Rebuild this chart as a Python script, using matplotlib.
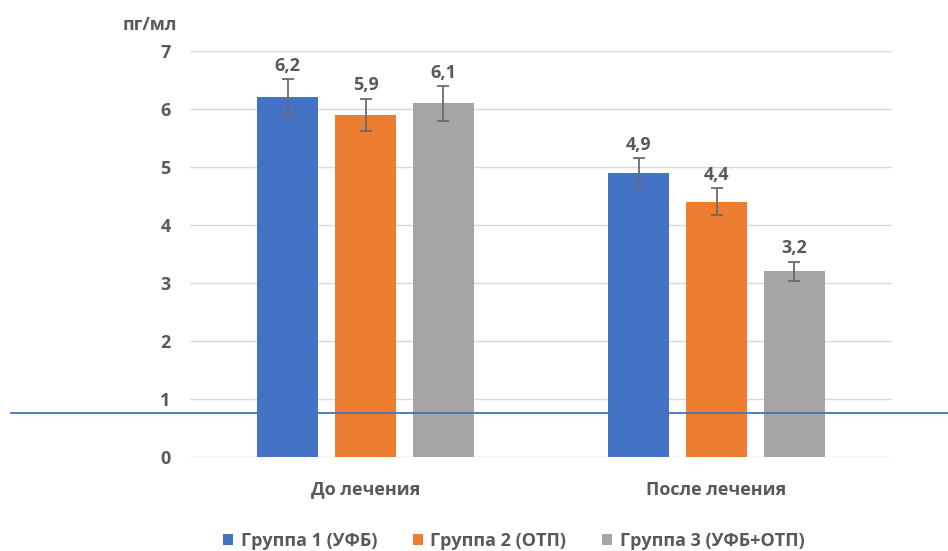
import matplotlib
matplotlib.use("Agg")
import matplotlib.pyplot as plt
import numpy as np

categories = ["До лечения", "После лечения"]
series_names = ["Группа 1 (УФБ)", "Группа 2 (ОТП)", "Группа 3 (УФБ+ОТП)"]
group1 = [6.2, 4.9]
group2 = [5.9, 4.4]
group3 = [6.1, 3.2]
err1 = [0.32, 0.25]
err2 = [0.28, 0.23]
err3 = [0.30, 0.17]
labels1 = ["6,2", "4,9"]
labels2 = ["5,9", "4,4"]
labels3 = ["6,1", "3,2"]
yticks = [0, 1, 2, 3, 4, 5, 6, 7]
ref_line_value = 0.76

colors = ["#4472C4", "#ED7D31", "#A5A5A5"]
text_color = "#595959"

plt.rcParams['font.family'] = ['Open Sans', 'DejaVu Sans']
FS = 13

fig = plt.figure(figsize=(9.48, 5.51), dpi=100)
ax = fig.add_axes([0.2004, 0.1706, 0.7406, 0.7368])

x = np.arange(len(categories))
width = 0.174
offset = 0.222
data = [group1, group2, group3]
errs = [err1, err2, err3]
labs = [labels1, labels2, labels3]
for i in range(3):
    pos = x + (i - 1) * offset
    ax.bar(pos, data[i], width, color=colors[i], label=series_names[i], zorder=2)
    ax.errorbar(pos, data[i], yerr=errs[i], fmt='none', ecolor="#6b6b6b",
                elinewidth=1.3, capsize=4, capthick=1.3, zorder=3)
    for p, v, e, l in zip(pos, data[i], errs[i], labs[i]):
        ax.annotate(l, (p, v + e), xytext=(0, 3), textcoords='offset points',
                    ha='center', va='bottom', fontsize=FS, fontweight='bold',
                    color=text_color)

ax.set_xlim(-0.5, 1.5)
ax.set_ylim(0, 7)
ax.set_yticks(yticks)
ax.set_yticklabels([str(t) for t in yticks], fontsize=FS, fontweight='bold', color=text_color)
ax.set_xticks(x)
ax.set_xticklabels(categories, fontsize=FS, fontweight='bold', color=text_color)
ax.tick_params(axis='both', length=0)
ax.tick_params(axis='y', pad=14)
ax.tick_params(axis='x', pad=17)
ax.grid(axis='y', color="#d9d9d9", linewidth=1, zorder=0)
ax.set_axisbelow(True)
for s in ax.spines.values():
    s.set_visible(False)

ax.text(-0.057, 1.065, "пг/мл", transform=ax.transAxes, ha='center', va='center',
        fontsize=FS, fontweight='bold', color=text_color)

leg = fig.legend(loc='lower center', bbox_to_anchor=(0.542, -0.028), ncol=3, frameon=False,
                 handlelength=0.55, handleheight=0.55, handletextpad=0.4, columnspacing=2.0,
                 prop={'size': FS, 'weight': 'bold'})
for t in leg.get_texts():
    t.set_color(text_color)

# horizontal blue reference line spanning the figure
ax.axhline(ref_line_value, xmin=-0.255, xmax=1.08, color="#4472C4", linewidth=1.3,
           clip_on=False, zorder=5)

fig.savefig("out.png", dpi=100)
